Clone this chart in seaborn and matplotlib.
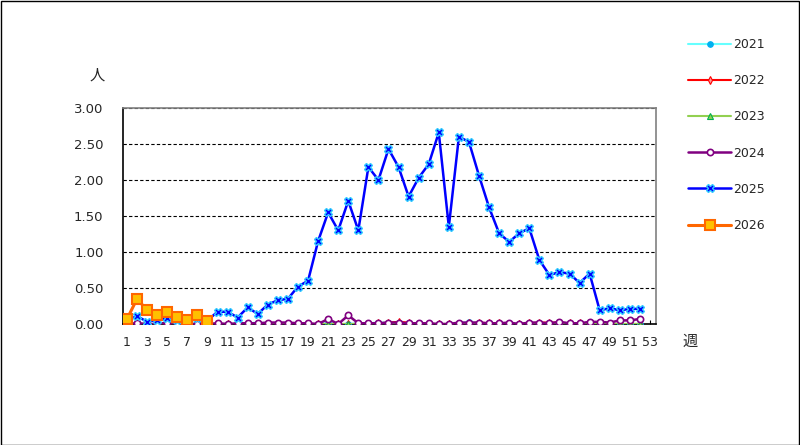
import numpy as np
import pandas as pd
import seaborn as sns
import matplotlib.pyplot as plt
from matplotlib.patches import Rectangle

# weekly values (人) per year
weeks_52 = list(range(1, 53))
weeks_2026 = list(range(1, 10))

y2021 = [0.00, 0.01, 0.00, 0.00, 0.01, 0.00, 0.00, 0.01, 0.00, 0.00,
         0.00, 0.00, 0.01, 0.02, 0.01, 0.01, 0.01, 0.00, 0.00, 0.00,
         0.01, 0.00, 0.00, 0.01, 0.01, 0.02, 0.02, 0.01, 0.00, 0.01,
         0.00, 0.00, 0.00, 0.01, 0.03, 0.01, 0.01, 0.00, 0.00, 0.00,
         0.01, 0.00, 0.00, 0.01, 0.00, 0.00, 0.01, 0.00, 0.00, 0.00,
         0.00, 0.00]
y2022 = [0.00, 0.00, 0.00, 0.00, 0.00, 0.00, 0.00, 0.00, 0.00, 0.00,
         0.00, 0.00, 0.00, 0.00, 0.00, 0.00, 0.00, 0.00, 0.00, 0.00,
         0.00, 0.00, 0.00, 0.00, 0.00, 0.01, 0.02, 0.03, 0.02, 0.00,
         0.00, 0.00, 0.00, 0.00, 0.01, 0.02, 0.01, 0.01, 0.00, 0.00,
         0.01, 0.02, 0.02, 0.02, 0.01, 0.01, 0.01, 0.01, 0.00, 0.00,
         0.00, 0.00]
y2023 = [0.00] * 52
y2024 = [0.00, 0.01, 0.00, 0.00, 0.02, 0.02, 0.00, 0.00, 0.00, 0.01,
         0.00, 0.01, 0.01, 0.01, 0.02, 0.02, 0.02, 0.01, 0.01, 0.00,
         0.07, 0.00, 0.12, 0.01, 0.01, 0.01, 0.02, 0.02, 0.01, 0.01,
         0.01, 0.00, 0.00, 0.02, 0.02, 0.02, 0.01, 0.01, 0.02, 0.00,
         0.02, 0.02, 0.01, 0.03, 0.01, 0.01, 0.03, 0.03, 0.02, 0.05,
         0.05, 0.07]
y2025 = [0.05, 0.11, 0.03, 0.06, 0.08, 0.06, 0.05, 0.08, 0.05, 0.17,
         0.17, 0.09, 0.23, 0.14, 0.27, 0.33, 0.35, 0.52, 0.60, 1.15,
         1.55, 1.30, 1.71, 1.30, 2.18, 2.00, 2.43, 2.18, 1.77, 2.03,
         2.22, 2.66, 1.35, 2.60, 2.53, 2.06, 1.62, 1.26, 1.14, 1.26,
         1.33, 0.89, 0.68, 0.72, 0.70, 0.57, 0.70, 0.19, 0.22, 0.19,
         0.21, 0.21]
y2026 = [0.07, 0.35, 0.19, 0.13, 0.16, 0.10, 0.06, 0.13, 0.04]

years = ["2021", "2022", "2023", "2024", "2025", "2026"]
series = [y2021, y2022, y2023, y2024, y2025, y2026]

styles = {
    "2021": dict(color="#66FFFF", marker="o", ms=4, mfc="#00B0F0", mec="#00B0F0", mew=0.8, lw=1.5),
    "2022": dict(color="#FF0000", marker="d", ms=4, mfc="#FF9999", mec="#FF0000", mew=0.8, lw=1.5),
    "2023": dict(color="#92D050", marker="^", ms=4, mfc="#92D050", mec="#00B050", mew=0.8, lw=1.5),
    "2024": dict(color="#800080", marker="o", ms=4.5, mfc="white", mec="#800080", mew=1.2, lw=1.8),
    "2025": dict(color="#0000FF", marker="X", ms=6, mfc="#0000FF", mec="#33CCFF", mew=1.0, lw=1.8),
    "2026": dict(color="#FF6600", marker="s", ms=7, mfc="#FFC000", mec="#FF6600", mew=1.5, lw=2.2),
}

sns.set_theme(style="white")
plt.rcParams["font.family"] = ["DejaVu Sans", "Noto Sans CJK JP"]

fig = plt.figure(figsize=(8, 4.45), dpi=100)
ax = fig.add_axes([123 / 800, 1 - 324 / 445, 533 / 800, 216 / 445])

for yr, vals in zip(years, series):
    wk = weeks_2026 if yr == "2026" else weeks_52
    df = pd.DataFrame({"week": wk, "value": vals})
    st = styles[yr]
    sns.lineplot(data=df, x="week", y="value", ax=ax, label=yr,
                 color=st["color"], lw=st["lw"], marker=st["marker"],
                 markersize=st["ms"], markerfacecolor=st["mfc"],
                 mec=st["mec"], mew=st["mew"], zorder=3)

ax.set_xlim(0.6, 53.6)
ax.set_ylim(0, 3.0)
ax.set_yticks(np.arange(0, 3.01, 0.5))
ax.set_yticklabels([f"{v:.2f}" for v in np.arange(0, 3.01, 0.5)])
ax.set_xticks(range(1, 54))
ax.set_xticklabels([str(w) if w % 2 == 1 else "" for w in range(1, 54)])
ax.tick_params(axis="x", direction="in", length=3, width=0.8, color="black",
               pad=9, labelsize=9, bottom=True)
ax.tick_params(axis="y", length=0, pad=14, labelsize=9.5)
ax.set_xlabel("")
ax.set_ylabel("")
ax.grid(axis="y", color="black", linestyle=(0, (3, 2)), linewidth=0.8)
ax.grid(axis="x", visible=False)
ax.set_axisbelow(True)
for side in ["left", "bottom"]:
    ax.spines[side].set_color("black")
    ax.spines[side].set_linewidth(1.2)
for side in ["top", "right"]:
    ax.spines[side].set_color("#808080")
    ax.spines[side].set_linewidth(1.2)

leg = ax.legend(loc="upper left", bbox_to_anchor=(677 / 800, 1 - 27 / 445),
                bbox_transform=fig.transFigure, frameon=False,
                handlelength=3.4, handletextpad=0.15, labelspacing=1.85,
                fontsize=9)

fig.text(97 / 800, 1 - 75 / 445, "人", fontsize=11, ha="center", va="center",
         family=["Noto Sans CJK JP", "DejaVu Sans"])
fig.text(690 / 800, 1 - 341 / 445, "週", fontsize=11, ha="center", va="center",
         family=["Noto Sans CJK JP", "DejaVu Sans"])

fig.patches.append(Rectangle((0.001, 0.001), 0.998, 0.997, transform=fig.transFigure,
                             fill=False, edgecolor="black", linewidth=1))

fig.savefig("out.png", dpi=100)
